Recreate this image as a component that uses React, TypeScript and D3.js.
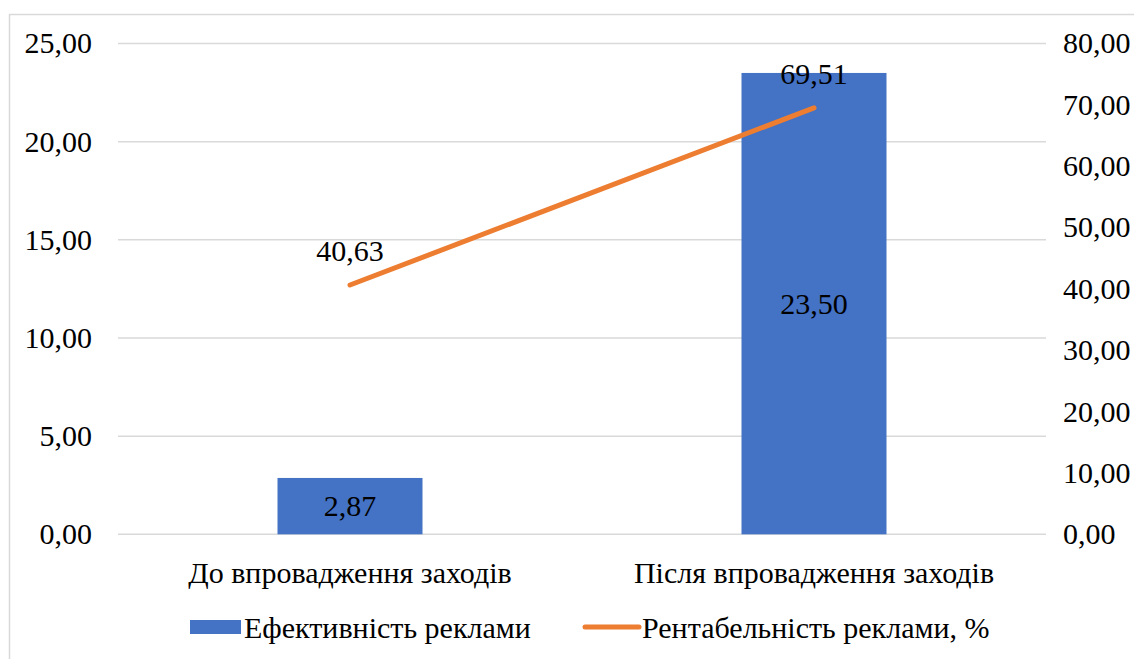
import React from "react";
import * as d3 from "d3";

const categories = ["До впровадження заходів", "Після впровадження заходів"];
const efficiency = [2.87, 23.5];
const profitability = [40.63, 69.51];
const leftTicks = [0, 5, 10, 15, 20, 25];
const rightTicks = [0, 10, 20, 30, 40, 50, 60, 70, 80];
const seriesNames = ["Ефективність реклами", "Рентабельність реклами, %"];

const W = 1142;
const H = 659;
const plot = { left: 118, right: 1046, top: 43.5, bottom: 534.3 };
const FONT = "Times New Roman";
const FS = 30;
const BLUE = "#4472C4";
const ORANGE = "#ED7D31";
const GRID = "#D9D9D9";

const fmt = (v: number) => v.toFixed(2).replace(".", ",");

function Label(props: { x: number; y: number; anchor?: string; children: React.ReactNode }) {
  return (
    <text
      x={props.x}
      y={props.y}
      dy="0.33em"
      textAnchor={props.anchor || "start"}
      fill="#000"
      style={{ fontFamily: FONT, fontSize: FS + "px" }}
    >
      {props.children}
    </text>
  );
}

export default function App() {
  const x = d3.scaleBand<string>().domain(categories).range([plot.left, plot.right]).paddingInner(0).paddingOuter(0);
  const yL = d3.scaleLinear().domain([0, 25]).range([plot.bottom, plot.top]);
  const yR = d3.scaleLinear().domain([0, 80]).range([plot.bottom, plot.top]);
  const barW = x.bandwidth() * 0.3125;
  const cx = (c: string) => (x(c) as number) + x.bandwidth() / 2;

  const line = d3
    .line<number>()
    .x((_, i) => cx(categories[i]))
    .y((d) => yR(d));

  return (
    <svg width={W} height={H} style={{ display: "block", margin: "-8px 0 0 -8px" }}>
      <rect x={9.5} y={14.5} width={1200} height={700} fill="#fff" stroke={GRID} strokeWidth={1.5} />
      {leftTicks.map((t) => (
        <line key={"g" + t} x1={plot.left} x2={plot.right} y1={yL(t)} y2={yL(t)} stroke={GRID} strokeWidth={1.5} />
      ))}
      {leftTicks.map((t) => (
        <Label key={"l" + t} x={92} y={yL(t)} anchor="end">
          {fmt(t)}
        </Label>
      ))}
      {rightTicks.map((t) => (
        <Label key={"r" + t} x={1063} y={yR(t)}>
          {fmt(t)}
        </Label>
      ))}
      {categories.map((c, i) => (
        <rect key={"b" + c} x={cx(c) - barW / 2} y={yL(efficiency[i])} width={barW} height={yL(0) - yL(efficiency[i])} fill={BLUE} />
      ))}
      {categories.map((c, i) => (
        <Label key={"bl" + c} x={cx(c)} y={(yL(efficiency[i]) + yL(0)) / 2} anchor="middle">
          {fmt(efficiency[i])}
        </Label>
      ))}
      <path d={line(profitability) || ""} fill="none" stroke={ORANGE} strokeWidth={5} strokeLinecap="round" />
      {categories.map((c, i) => (
        <Label key={"pl" + c} x={cx(c)} y={yR(profitability[i]) - 34} anchor="middle">
          {fmt(profitability[i])}
        </Label>
      ))}
      {categories.map((c) => (
        <Label key={"c" + c} x={cx(c)} y={573} anchor="middle">
          {c}
        </Label>
      ))}
      <rect x={190} y={620} width={51} height={14} fill={BLUE} />
      <Label x={244} y={628}>
        {seriesNames[0]}
      </Label>
      <line x1={585} x2={639} y1={627} y2={627} stroke={ORANGE} strokeWidth={5} strokeLinecap="round" />
      <Label x={642} y={628}>
        {seriesNames[1]}
      </Label>
    </svg>
  );
}
